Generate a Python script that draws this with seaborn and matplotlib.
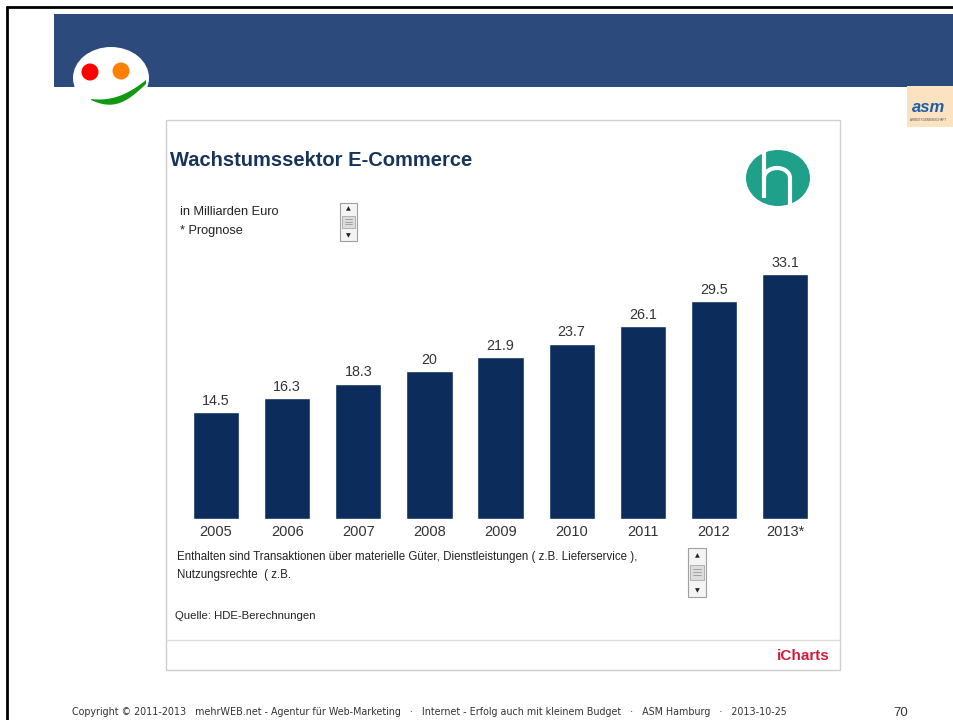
import numpy as np
import pandas as pd
import matplotlib
matplotlib.use("Agg")
import matplotlib.pyplot as plt
import seaborn as sns
from matplotlib.patches import Rectangle, Circle, Ellipse

# Daten: E-Commerce Umsatz in Mrd. Euro
years = ['2005', '2006', '2007', '2008', '2009', '2010', '2011', '2012', '2013*']
umsatz = [14.5, 16.3, 18.3, 20, 21.9, 23.7, 26.1, 29.5, 33.1]
value_labels = ['14.5', '16.3', '18.3', '20', '21.9', '23.7', '26.1', '29.5', '33.1']

df = pd.DataFrame({'Jahr': years, 'Umsatz': umsatz})

sns.set_style('white')
plt.rcParams['font.family'] = ['Liberation Sans', 'DejaVu Sans']

fig = plt.figure(figsize=(9.54, 7.2), dpi=100)

# background layer in pixel coords for the slide decoration
bg = fig.add_axes([0, 0, 1, 1])
bg.set_xlim(0, 954)
bg.set_ylim(720, 0)
bg.axis('off')

# slide frame + header band
bg.plot([7.5, 7.5], [6.5, 720], color='black', lw=2)
bg.plot([7.5, 954], [6.5, 6.5], color='black', lw=2)
bg.add_patch(Rectangle((54, 14), 900, 73, color='#2c4a7c', lw=0))

# smiley logo
bg.add_patch(Ellipse((111, 78), 76, 62, color='white', lw=0))
bg.add_patch(Circle((90, 72), 8.5, color='#ff0000', lw=0))
bg.add_patch(Circle((121, 71), 8.5, color='#ff7f00', lw=0))
t = np.linspace(0, 1, 30)
sx = 91 + 55 * t
up = 99 + 2 * np.sin(np.pi * t) - 19 * t ** 2
lo = 100 + 9 * np.sin(np.pi * t) - 16 * t ** 1.5
bg.fill(np.r_[sx, sx[::-1]], np.r_[up, lo[::-1]], color='#109a10', lw=0)

# asm logo
bg.add_patch(Rectangle((907, 86), 47, 41, color='#fbe3c2', lw=0))
bg.text(912, 112, 'asm', color='#1f5fa8', fontsize=12, fontweight='bold', style='italic')
bg.text(910, 121, 'ARBEITSGEMEINSCHAFT', color='#555555', fontsize=2.2)

# chart panel
bg.add_patch(Rectangle((166, 120), 674, 550, facecolor='white', edgecolor='#cfcfcf', lw=1))
bg.plot([166, 840], [640, 640], color='#dcdcdc', lw=1)

bg.text(170, 160, 'Wachstumssektor E-Commerce', fontsize=14.5, fontweight='bold',
        color='#17345a', va='center')
bg.text(180, 212, 'in Milliarden Euro', fontsize=9.2, color='#222222', va='center')
bg.text(180, 231, '* Prognose', fontsize=9.2, color='#222222', va='center')

bg.text(177, 557, 'Enthalten sind Transaktionen über materielle Güter, Dienstleistungen ( z.B. Lieferservice ),',
        fontsize=8.3, color='#222222', va='center')
bg.text(177, 575, 'Nutzungsrechte  ( z.B.', fontsize=8.3, color='#222222', va='center')
bg.text(175, 616, 'Quelle: HDE-Berechnungen', fontsize=8.2, color='#222222', va='center')
bg.text(830, 656, 'iCharts', fontsize=11, fontweight='bold', color='#d01c3c',
        ha='right', va='center')


def scrollbar(x, y, w, h):
    bg.add_patch(Rectangle((x, y), w, h, facecolor='#f4f4f4', edgecolor='#a0a0a0', lw=0.8))
    bg.add_patch(Rectangle((x + 2, y + h * 0.35), w - 4, h * 0.3, facecolor='#dcdcdc',
                           edgecolor='#a8a8a8', lw=0.6))
    for k in range(3):
        yy = y + h * 0.43 + k * h * 0.06
        bg.plot([x + 5, x + w - 5], [yy, yy], color='#999999', lw=0.6)
    bg.text(x + w / 2, y + h * 0.15, '▲', fontsize=4.5, ha='center', va='center',
            color='#222222', family='DejaVu Sans')
    bg.text(x + w / 2, y + h * 0.87, '▼', fontsize=4.5, ha='center', va='center',
            color='#222222', family='DejaVu Sans')


scrollbar(340, 203, 17, 38)
scrollbar(688, 548, 18, 49)

# teal logo
bg.add_patch(Ellipse((778, 178), 64, 56, color='#1fa08a', lw=0))
bg.plot([764, 764], [152, 198], color='white', lw=3, solid_capstyle='butt')
a = np.linspace(np.pi, 0, 30)
hx = np.r_[764, 777 + 13 * np.cos(a), 790]
hy = np.r_[178, 178 - 10 * np.sin(a), 210]
bg.plot(hx, hy, color='white', lw=3)

# footer
bg.text(72, 712, 'Copyright © 2011-2013   mehrWEB.net - Agentur für Web-Marketing   ·   '
        'Internet - Erfolg auch mit kleinem Budget   ·   ASM Hamburg   ·   2013-10-25',
        fontsize=7.7, color='#333333', va='center', family='DejaVu Sans', fontstretch='condensed')
bg.text(893, 713, '70', fontsize=9.5, color='#333333', va='center')

# bar chart
ax = fig.add_axes([180.5 / 954, 201 / 720, 640 / 954, 269 / 720])
ax.set_facecolor('none')
sns.barplot(data=df, x='Jahr', y='Umsatz', color='#0c2d5c', width=0.65,
            saturation=1, ax=ax)
ax.set_xlim(-0.5, 8.5)
ax.set_ylim(0, 36.35)
ax.bar_label(ax.containers[0], labels=value_labels, padding=3, fontsize=10.3, color='#333333')
ax.set_yticks([])
ax.set_xlabel('')
ax.set_ylabel('')
sns.despine(ax=ax, left=True, bottom=True)
ax.tick_params(axis='x', length=0, pad=4, labelsize=10.5, labelcolor='#333333')

plt.savefig('out.png', dpi=100)
